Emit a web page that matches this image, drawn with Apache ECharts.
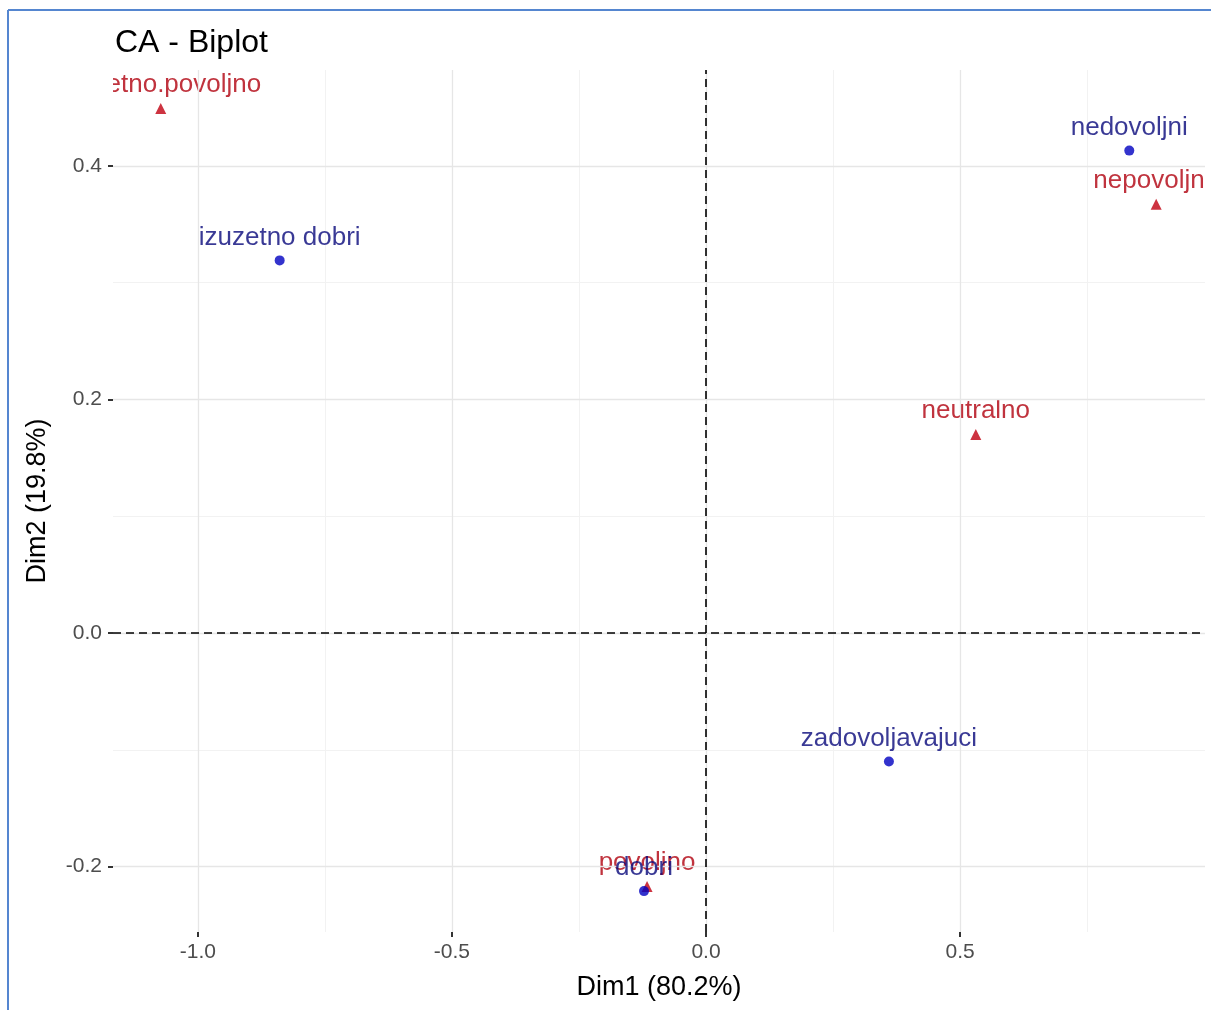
<!DOCTYPE html>
<html>
<head>
<meta charset="utf-8">
<script src="https://cdn.jsdelivr.net/npm/echarts@6/dist/echarts.min.js"></script>
<style>
html,body{margin:0;padding:0;background:#fff;}
#chart{width:1211px;height:1010px;}
</style>
</head>
<body>
<div id="chart"></div>
<script>
// Row points (blue circles)
const rowNames = ['izuzetno dobri', 'nedovoljni', 'zadovoljavajuci', 'dobri'];
const rowX = [-0.839, 0.833, 0.360, -0.122];
const rowY = [0.319, 0.413, -0.110, -0.221];
// Column points (red triangles)
const colNames = ['izuzetno.povoljno', 'nepovoljno', 'neutralno', 'povoljno'];
const colX = [-1.073, 0.886, 0.531, -0.116];
const colY = [0.449, 0.367, 0.170, -0.217];
// Axes
const xTicks = [-1.0, -0.5, 0.0, 0.5];
const xMinor = [-0.75, -0.25, 0.25, 0.75];
const yTicks = [-0.2, 0.0, 0.2, 0.4];
const yMinor = [-0.1, 0.1, 0.3];
const xRange = [-1.167, 0.982];
const yRange = [-0.256, 0.482];

const FONT = '"Liberation Sans", Arial, sans-serif';
const chart = echarts.init(document.getElementById('chart'), null, {renderer: 'canvas'});

function gridLines(vals, axis, color, width) {
  return vals.map(v => ({[axis]: v, lineStyle: {color: color, width: width, type: 'solid'}}));
}

const option = {
  backgroundColor: '#fff',
  animation: false,
  title: {
    text: 'CA - Biplot', left: 110, top: 22,
    textStyle: {fontFamily: FONT, fontSize: 32, fontWeight: 'normal', color: '#000'}
  },
  grid: {left: 113, right: 6, top: 70, bottom: 78, containLabel: false},
  xAxis: {
    type: 'value', min: xRange[0], max: xRange[1],
    name: 'Dim1 (80.2%)', nameLocation: 'middle', nameGap: 42,
    nameTextStyle: {fontFamily: FONT, fontSize: 27, color: '#000'},
    axisLine: {show: true, onZero: false, lineStyle: {color: 'rgba(0,0,0,0)'}},
    axisTick: {show: true, customValues: xTicks, length: 5, lineStyle: {color: '#333', width: 2}},
    axisLabel: {customValues: xTicks, margin: 10, fontFamily: FONT, fontSize: 21, color: '#4d4d4d',
      formatter: v => v.toFixed(1)},
    splitLine: {show: false}
  },
  yAxis: {
    type: 'value', min: yRange[0], max: yRange[1],
    name: 'Dim2 (19.8%)', nameLocation: 'middle', nameGap: 62, nameRotate: 90,
    nameTextStyle: {fontFamily: FONT, fontSize: 27, color: '#000'},
    axisLine: {show: true, onZero: false, lineStyle: {color: 'rgba(0,0,0,0)'}},
    axisTick: {show: true, customValues: yTicks, length: 5, lineStyle: {color: '#333', width: 2}},
    axisLabel: {customValues: yTicks, margin: 11, fontFamily: FONT, fontSize: 21, color: '#4d4d4d',
      formatter: v => v.toFixed(1)},
    splitLine: {show: false}
  },
  series: [
    {
      type: 'scatter', data: [], z: 1, silent: true,
      markLine: {
        silent: true, symbol: 'none', label: {show: false}, animation: false,
        data: [].concat(
          gridLines(xMinor, 'xAxis', '#f2f2f2', 1),
          gridLines(yMinor, 'yAxis', '#f2f2f2', 1),
          gridLines(xTicks, 'xAxis', '#e6e6e6', 1.3),
          gridLines(yTicks, 'yAxis', '#e6e6e6', 1.3)
        )
      }
    },
    {
      type: 'scatter', data: [], z: 2, silent: true,
      markLine: {
        silent: true, symbol: 'none', label: {show: false}, animation: false,
        lineStyle: {color: '#000', width: 1.6, type: [8, 5]},
        data: [{xAxis: 0}, {yAxis: 0}]
      }
    },
    {
      name: 'col', type: 'scatter', z: 4,
      symbol: 'triangle', symbolSize: 11,
      itemStyle: {color: '#c00010'},
      label: {show: true, position: 'top', distance: 5, formatter: p => p.name,
        fontFamily: FONT, fontSize: 26, color: '#b0000e'},
      data: colNames.map((n, i) => ({name: n, value: [colX[i], colY[i]]}))
    },
    {
      name: 'row', type: 'scatter', z: 5,
      symbol: 'circle', symbolSize: 10,
      itemStyle: {color: '#0000c0'},
      label: {show: true, position: 'top', distance: 5, formatter: p => p.name,
        fontFamily: FONT, fontSize: 26, color: '#08087a'},
      data: rowNames.map((n, i) => ({name: n, value: [rowX[i], rowY[i]]}))
    }
  ],
  graphic: [
    {type: 'rect', z: 100, shape: {x: 9, y: 68, width: 104, height: 60}, style: {fill: '#fff'}},
    {type: 'rect', z: 100, shape: {x: 1205, y: 60, width: 10, height: 870}, style: {fill: '#fff'}},
    {type: 'line', z: 101, shape: {x1: 8, y1: 10, x2: 8, y2: 1010}, style: {stroke: '#5586d0', lineWidth: 2}},
    {type: 'line', z: 101, shape: {x1: 8, y1: 10, x2: 1211, y2: 10}, style: {stroke: '#5586d0', lineWidth: 2}}
  ]
};
chart.setOption(option);
</script>
</body>
</html>
